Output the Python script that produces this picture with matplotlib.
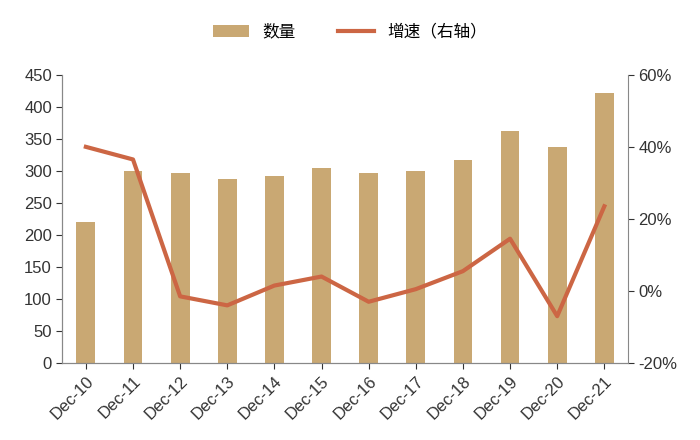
import matplotlib
matplotlib.use('Agg')
import matplotlib.pyplot as plt
from matplotlib.ticker import FuncFormatter

plt.rcParams['font.family'] = ['Liberation Sans', 'Noto Sans CJK SC', 'DejaVu Sans']

categories = ['Dec-10','Dec-11','Dec-12','Dec-13','Dec-14','Dec-15','Dec-16','Dec-17','Dec-18','Dec-19','Dec-20','Dec-21']
counts = [220, 300, 297, 287, 292, 305, 297, 300, 317, 363, 338, 421]
growth = [40, 36.5, -1.5, -4, 1.5, 4, -3, 0.5, 5.5, 14.5, -7, 23.5]

fig = plt.figure(figsize=(7, 4.4), dpi=100)
ax = fig.add_axes([0.089, 0.175, 0.808, 0.655])
x = range(len(categories))
b = ax.bar(x, counts, width=0.4, color='#C9A873', label='数量')
ax.set_ylim(0, 450)
ax.set_yticks(range(0, 451, 50))
ax.set_xlim(-0.5, len(categories) - 0.5)
ax.set_xticks(list(x))
ax.set_xticklabels(categories, rotation=45, ha='right', rotation_mode='anchor')
ax2 = ax.twinx()
l, = ax2.plot(x, growth, color='#CC6644', lw=3, label='增速（右轴）')
ax2.set_ylim(-20, 60)
ax2.set_yticks(range(-20, 61, 20))
ax2.yaxis.set_major_formatter(FuncFormatter(lambda v, p: f'{int(v)}%'))
for a in (ax, ax2):
    a.spines['top'].set_visible(False)
    a.tick_params(labelsize=12, colors='#333333', length=4)
    for s in a.spines.values():
        s.set_color('#888888')
ax.spines['right'].set_visible(False)
fig.legend([b, l], ['数量', '增速（右轴）'], loc='upper center', bbox_to_anchor=(0.5, 0.98),
           ncol=2, frameon=False, fontsize=12, handlelength=2.2, columnspacing=2.5)
fig.savefig('out.png')
